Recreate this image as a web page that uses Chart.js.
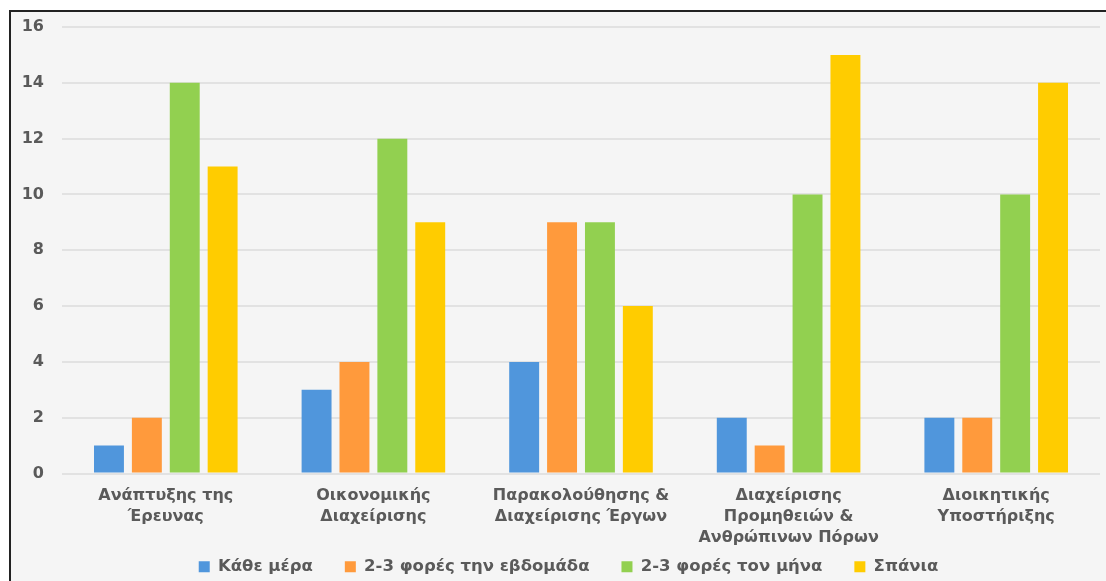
<!DOCTYPE html>
<html>
<head>
<meta charset="utf-8">
<script src="https://cdn.jsdelivr.net/npm/chart.js@4.4.1/dist/chart.umd.min.js"></script>
<style>
  html, body { margin: 0; padding: 0; background: #ffffff; overflow: hidden; width: 1106px; height: 581px; }
  #frame {
    position: absolute; left: 9px; top: 10px;
    width: 1097px; height: 602px;
    border-top: 2px solid #222222; border-left: 2px solid #222222;
    background: #f5f5f5;
  }
  #chart { display: block; }
</style>
</head>
<body>
<div id="frame"><canvas id="chart" width="1095" height="600"></canvas></div>
<script>
// Categories (department units), multi-line labels
const categories = [
  ['Ανάπτυξης της', 'Έρευνας'],
  ['Οικονομικής', 'Διαχείρισης'],
  ['Παρακολούθησης &', 'Διαχείρισης Έργων'],
  ['Διαχείρισης', 'Προμηθειών &', 'Ανθρώπινων Πόρων'],
  ['Διοικητικής', 'Υποστήριξης']
];

// Series: how often each unit is used
const seriesNames = ['Κάθε μέρα', '2-3 φορές την εβδομάδα', '2-3 φορές τον μήνα', 'Σπάνια'];
const everyDay   = [1, 3, 4, 2, 2];
const perWeek    = [2, 4, 9, 1, 2];
const perMonth   = [14, 12, 9, 10, 10];
const rarely     = [11, 9, 6, 15, 14];

// Y-axis range
const yMin = 0, yMax = 16, yStep = 2;

const colors = ['#5096DC', '#FF9A3C', '#92D050', '#FFCC00'];
const seriesValues = [everyDay, perWeek, perMonth, rarely];

const fontFamily = '"DejaVu Sans", "Noto Sans", sans-serif';
const textColor = '#5a5a5a';

// Pull the legend row up under the category labels and nudge it right
const legendShift = {
  id: 'legendShift',
  afterLayout(chart) {
    const lg = chart.legend;
    if (!lg) return;
    lg.top -= 27; lg.bottom -= 27;
    lg.left += 13; lg.right += 13;
  }
};

new Chart(document.getElementById('chart'), {
  type: 'bar',
  data: {
    labels: categories,
    datasets: seriesNames.map((name, i) => ({
      label: name,
      data: seriesValues[i],
      backgroundColor: colors[i],
      borderWidth: 0,
      categoryPercentage: 0.73,
      barPercentage: 0.79
    }))
  },
  options: {
    responsive: false,
    animation: false,
    layout: { padding: { top: 15, right: 6, bottom: 0, left: 0 } },
    plugins: {
      tooltip: { enabled: false },
      legend: {
        position: 'bottom',
        labels: {
          boxWidth: 11,
          boxHeight: 11,
          padding: 32,
          color: textColor,
          font: { family: fontFamily, size: 16.5, weight: 'bold' }
        }
      }
    },
    scales: {
      x: {
        grid: { display: false, drawTicks: false },
        border: { display: false },
        ticks: {
          color: textColor,
          padding: 12,
          maxRotation: 0,
          autoSkip: false,
          font: { family: fontFamily, size: 16, weight: 'bold', lineHeight: 1.3 }
        },
        afterFit: (s) => { s.height = 80; }
      },
      y: {
        min: yMin,
        max: yMax,
        grid: { color: '#e2e2e2', lineWidth: 2, drawTicks: false },
        border: { display: false },
        ticks: {
          stepSize: yStep,
          color: textColor,
          padding: 18,
          font: { family: fontFamily, size: 16, weight: 'bold' }
        },
        afterFit: (s) => { s.width = 51; s.paddingTop = 0; s.paddingBottom = 0; }
      }
    }
  },
  plugins: [legendShift]
});
</script>
</body>
</html>
